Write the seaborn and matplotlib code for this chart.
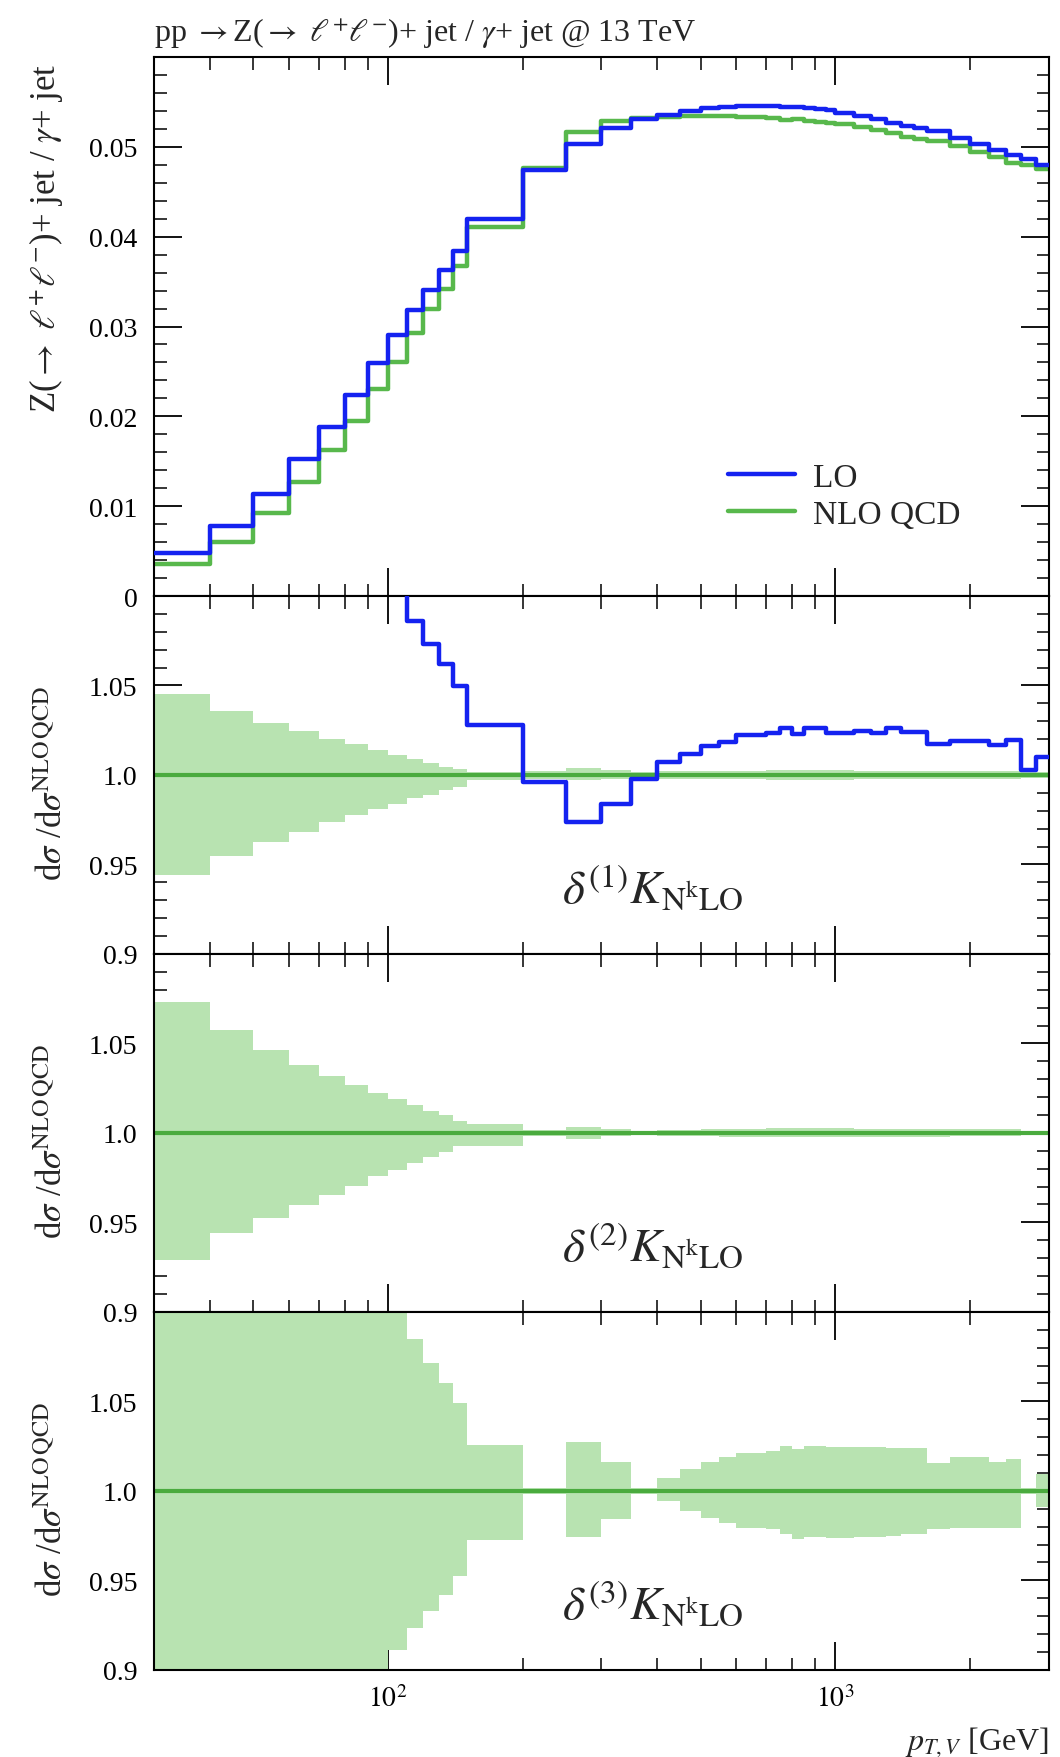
import numpy as np
import pandas as pd
import matplotlib
matplotlib.use("Agg")
import matplotlib.pyplot as plt
import seaborn as sns
from matplotlib.ticker import FixedLocator, NullFormatter, FixedFormatter, MultipleLocator

# ---------------- data ----------------
edges = [30, 40, 50, 60, 70, 80, 90, 100, 110, 120, 130, 140, 150, 200, 250, 300, 350,
         400, 450, 500, 550, 600, 650, 700, 750, 800, 850, 900, 950, 1000, 1100, 1200,
         1300, 1400, 1500, 1600, 1800, 2000, 2200, 2400, 2600, 2800, 3000]

lo = [0.0048, 0.0078, 0.0114, 0.0152, 0.0188, 0.0224, 0.0259, 0.0290, 0.0318, 0.0341,
      0.0363, 0.0384, 0.0420, 0.0474, 0.0503, 0.0521, 0.0531, 0.0536, 0.0540, 0.0543,
      0.0544, 0.0545, 0.0545, 0.0545, 0.0544, 0.0544, 0.0543, 0.0542, 0.0541, 0.0538,
      0.0534, 0.0531, 0.0527, 0.0523, 0.0521, 0.0518, 0.0510, 0.0503, 0.0497, 0.0491,
      0.0486, 0.0480]

nlo = [0.0036, 0.0060, 0.0092, 0.0127, 0.0162, 0.0195, 0.0231, 0.0261, 0.0293, 0.0320,
       0.0342, 0.0367, 0.0411, 0.0476, 0.0516, 0.0529, 0.0532, 0.0533, 0.0534, 0.0534,
       0.0534, 0.0533, 0.0533, 0.0532, 0.0530, 0.0531, 0.0529, 0.0528, 0.0527, 0.0525,
       0.0522, 0.0519, 0.0515, 0.0511, 0.0509, 0.0507, 0.0501, 0.0494, 0.0489, 0.0482,
       0.0480, 0.0475]

ratio_lo = [1.33, 1.30, 1.24, 1.20, 1.16, 1.15, 1.12, 1.11, 1.086, 1.073, 1.062, 1.0496,
            1.0277, 0.9962, 0.9738, 0.9837, 0.998, 1.0075, 1.012, 1.016, 1.0187, 1.0225,
            1.0225, 1.0236, 1.0264, 1.0230, 1.0264, 1.0264, 1.0236, 1.0236, 1.0245, 1.0236,
            1.026, 1.024, 1.024, 1.0174, 1.019, 1.019, 1.017, 1.0193, 1.003, 1.0103]

d1_low = [0.944, 0.955, 0.9625, 0.968, 0.9738, 0.9775, 0.981, 0.984, 0.987, 0.9888, 0.9916,
          0.9934, 0.9972, 0.998, 0.997, 0.998, 0.9985, 0.998, 0.998, 0.9978, 0.9976, 0.9975,
          0.9975, 0.9974, 0.9973, 0.9973, 0.9973, 0.9973, 0.9973, 0.9974, 0.9975, 0.9975,
          0.9976, 0.9977, 0.9977, 0.9978, 0.9978, 0.9979, 0.998, 0.998, 0.9985, 0.9985]
d1_high = [1.045, 1.0356, 1.029, 1.0243, 1.020, 1.0174, 1.014, 1.0112, 1.0088, 1.0066, 1.0047,
           1.0032, 1.0019, 1.002, 1.004, 1.003, 1.0015, 1.002, 1.002, 1.0022, 1.0024, 1.0025,
           1.0025, 1.0026, 1.0027, 1.0027, 1.0027, 1.0027, 1.0027, 1.0026, 1.0025, 1.0025,
           1.0024, 1.0023, 1.0023, 1.0022, 1.0022, 1.0021, 1.002, 1.002, 1.0015, 1.0015]

d2_low = [0.9288, 0.9438, 0.9522, 0.9597, 0.9654, 0.9706, 0.9757, 0.9794, 0.9831, 0.9865,
          0.9893, 0.9925, 0.9929, 0.9985, 0.9965, 0.998, 0.9988, 0.9985, 0.9982, 0.998,
          0.9978, 0.9977, 0.9976, 0.9975, 0.9975, 0.9975, 0.9975, 0.9975, 0.9975, 0.9975,
          0.9976, 0.9976, 0.9977, 0.9978, 0.9978, 0.9979, 0.998, 0.998, 0.998, 0.998,
          0.9988, 0.9988]
d2_high = [1.073, 1.0575, 1.0463, 1.038, 1.0318, 1.0268, 1.0225, 1.0187, 1.0155, 1.0125,
           1.0099, 1.0066, 1.0051, 1.0015, 1.0035, 1.002, 1.0012, 1.0015, 1.0018, 1.002,
           1.0022, 1.0023, 1.0024, 1.0025, 1.0025, 1.0025, 1.0025, 1.0025, 1.0025, 1.0025,
           1.0024, 1.0024, 1.0023, 1.0022, 1.0022, 1.0021, 1.002, 1.002, 1.002, 1.002,
           1.0012, 1.0012]

d3_low = [0.85, 0.85, 0.85, 0.85, 0.85, 0.85, 0.85, 0.911, 0.9232, 0.9326, 0.942, 0.9522,
          0.9728, 0.9985, 0.9743, 0.984, 0.9985, 0.9944, 0.9888, 0.985, 0.982, 0.9794,
          0.9794, 0.9785, 0.9757, 0.9732, 0.9743, 0.9743, 0.9738, 0.9738, 0.974, 0.974,
          0.975, 0.976, 0.976, 0.9788, 0.9794, 0.9794, 0.9794, 0.9794, 0.9985, 0.991]
d3_high = [1.15, 1.15, 1.15, 1.15, 1.15, 1.15, 1.15, 1.15, 1.0848, 1.0717, 1.0605, 1.049,
           1.0258, 1.0015, 1.0275, 1.0163, 1.0015, 1.0071, 1.012, 1.016, 1.0187, 1.0212,
           1.0212, 1.0225, 1.0253, 1.0234, 1.0253, 1.0253, 1.0243, 1.0243, 1.0247, 1.0247,
           1.024, 1.024, 1.024, 1.0155, 1.0187, 1.0187, 1.016, 1.0178, 1.0015, 1.0094]

x_minor = [40, 50, 60, 70, 80, 90, 200, 300, 400, 500, 600, 700, 800, 900, 2000]
x_major = [100, 1000]
x_major_labels = [r"$10^{2}$", r"$10^{3}$"]
top_yticks = [0.0, 0.01, 0.02, 0.03, 0.04, 0.05]
top_ylabels = ["0", "0.01", "0.02", "0.03", "0.04", "0.05"]
ratio_yticks = [0.9, 0.95, 1.0, 1.05]
ratio_ylabels = ["0.9", "0.95", "1.0", "1.05"]
panel_labels = [r"$\delta^{(1)}K_{\mathrm{N^{k}LO}}$",
                r"$\delta^{(2)}K_{\mathrm{N^{k}LO}}$",
                r"$\delta^{(3)}K_{\mathrm{N^{k}LO}}$"]

# ---------------- style ----------------
sns.set_theme(style="ticks")
plt.rcParams["font.family"] = ["Liberation Serif", "DejaVu Serif"]
plt.rcParams["mathtext.fontset"] = "stix"
plt.rcParams["axes.linewidth"] = 1.5
plt.rcParams["axes.edgecolor"] = "black"

BLUE = "#1422f0"
GREEN = "#58b84c"
GREEN_LINE = "#4aab3e"
BAND = "#b8e3b1"


def step_frame(vals):
    return pd.DataFrame({"pt": edges, "v": list(vals) + [vals[-1]]})


def band_ext(vals):
    return list(vals) + [vals[-1]]


fig = plt.figure(figsize=(10.6, 17.58), dpi=100)
L, W = 0.1453, 0.8443
ax0 = fig.add_axes([L, 0.6604, W, 0.3066])
ax1 = fig.add_axes([L, 0.4568, W, 0.2036])
ax2 = fig.add_axes([L, 0.2532, W, 0.2036])
ax3 = fig.add_axes([L, 0.0496, W, 0.2036])
axes = [ax0, ax1, ax2, ax3]
for ax in axes:
    ax.set_xscale("log")

# top panel
sns.lineplot(data=step_frame(lo), x="pt", y="v", ax=ax0, color=BLUE, lw=3.2,
             drawstyle="steps-post", estimator=None, label="LO", zorder=3)
sns.lineplot(data=step_frame(nlo), x="pt", y="v", ax=ax0, color=GREEN, lw=3.2,
             drawstyle="steps-post", estimator=None, label="NLO QCD", zorder=2)
ax0.set_ylim(0, 0.06)
ax0.set_yticks(top_yticks)
ax0.set_yticklabels(top_ylabels)
ax0.yaxis.set_minor_locator(MultipleLocator(0.002))
ax0.set_ylabel(r"Z($\rightarrow$ $\ell^{+}\ell^{-}$)+ jet / $\gamma$+ jet", fontsize=25)
ax0.yaxis.set_label_coords(-0.098, 0.665)
ax0.legend(loc="center right", bbox_to_anchor=(0.935, 0.185), frameon=False,
           fontsize=24, handlelength=2.0, handletextpad=0.55, labelspacing=0.2)

# ratio panels
norm = np.divide(nlo, nlo)
bands = [(d1_low, d1_high), (d2_low, d2_high), (d3_low, d3_high)]
for i, (ax, (blo, bhi)) in enumerate(zip([ax1, ax2, ax3], bands)):
    ax.fill_between(edges, band_ext(blo), band_ext(bhi), step="post", color=BAND,
                    lw=0, zorder=1)
    sns.lineplot(data=step_frame(norm), x="pt", y="v", ax=ax, color=GREEN_LINE, lw=3,
                 drawstyle="steps-post", estimator=None, zorder=2)
    if i == 0:
        sns.lineplot(data=step_frame(ratio_lo), x="pt", y="v", ax=ax, color=BLUE, lw=3.2,
                     drawstyle="steps-post", estimator=None, zorder=3)
    ax.set_ylim(0.9, 1.1)
    ax.set_yticks(ratio_yticks)
    ax.set_yticklabels(ratio_ylabels)
    ax.yaxis.set_minor_locator(MultipleLocator(0.01))
    ax.set_ylabel(r"d$\sigma$ /d$\sigma^{\mathrm{NLO\,QCD}}$", fontsize=25)
    ax.yaxis.set_label_coords(-0.094, 0.48)
    ax.text(0.557, 0.185, panel_labels[i], transform=ax.transAxes, fontsize=34,
            ha="center", va="center")
    if ax.legend_ is not None:
        ax.legend_.remove()

for ax in axes:
    ax.set_xlim(30, 3000)
    ax.xaxis.set_major_locator(FixedLocator(x_major))
    ax.xaxis.set_minor_locator(FixedLocator(x_minor))
    ax.xaxis.set_minor_formatter(NullFormatter())
    if ax is ax3:
        ax.xaxis.set_major_formatter(FixedFormatter(x_major_labels))
    else:
        ax.xaxis.set_major_formatter(NullFormatter())
    ax.set_xlabel("")
    ax.tick_params(which="both", direction="in", top=True, right=True, colors="black",
                   labelsize=20)
    ax.tick_params(which="major", length=20, width=1.3)
    ax.tick_params(which="minor", length=9, width=1.1)
    ax.tick_params(axis="y", which="major", pad=12)
    ax.tick_params(axis="x", which="major", pad=11)
    for s in ax.spines.values():
        s.set_linewidth(1.5)
        s.set_color("black")

fig.text(L, 1 - 34 / 1758,
         r"pp $\rightarrow$Z($\rightarrow$ $\ell^{+}\ell^{-}$)+ jet / $\gamma$+ jet @ 13 TeV",
         fontsize=23, ha="left", va="center")
fig.text(L + W, 1 - 1742 / 1758, r"$p_{T,V}$ [GeV]", fontsize=23, ha="right", va="center")

fig.savefig("out.png", dpi=100)
